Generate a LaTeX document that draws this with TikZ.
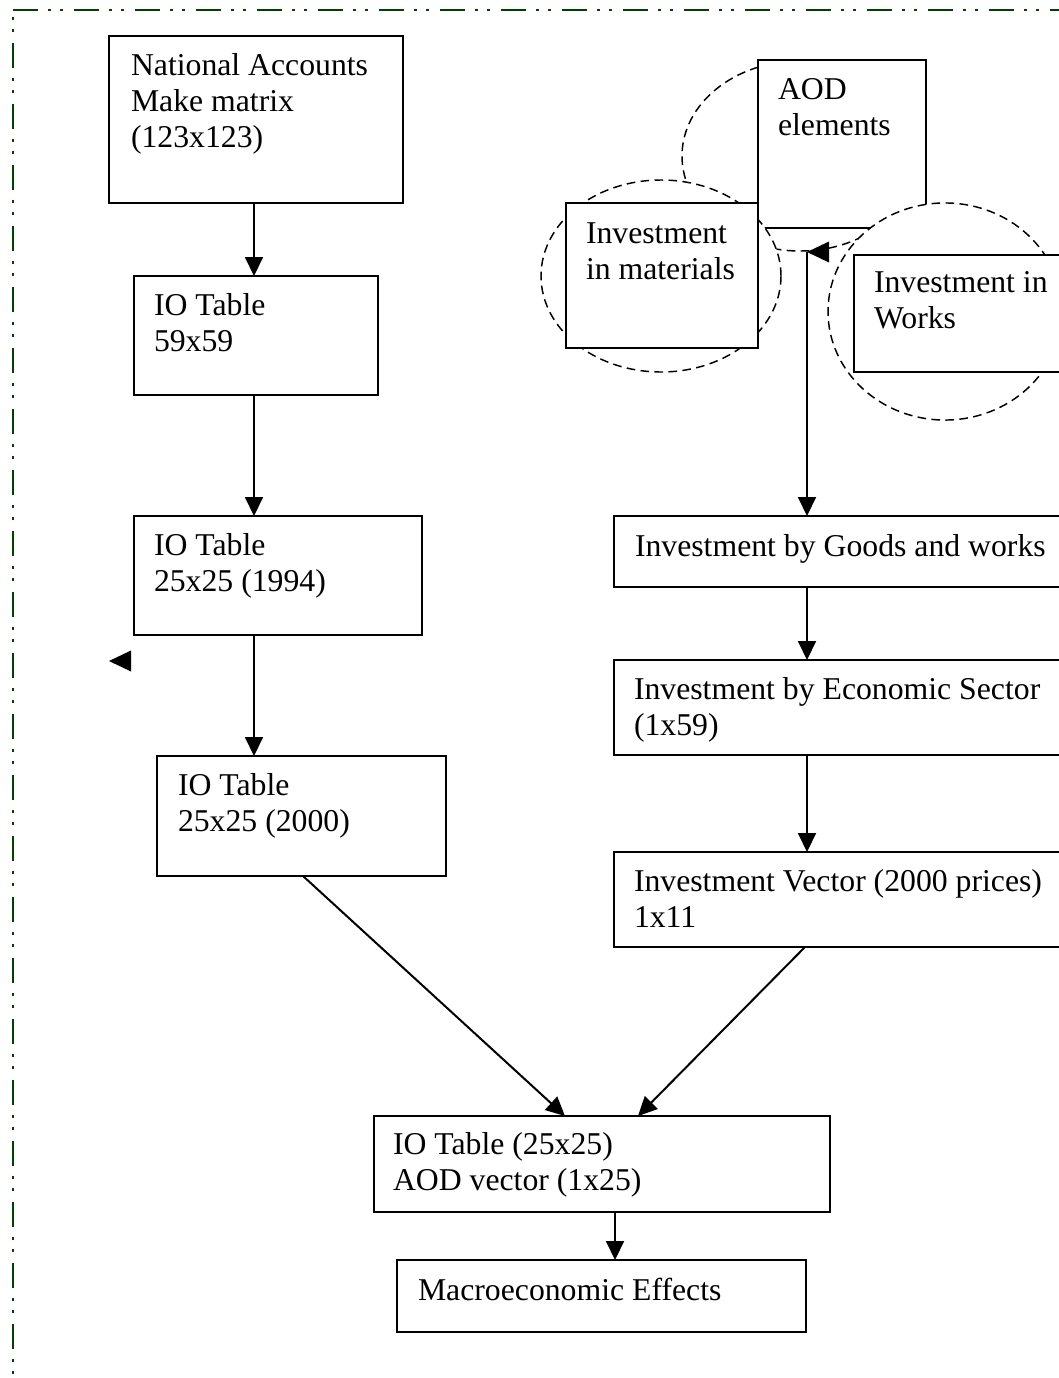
\documentclass[tikz,border=0pt]{standalone}
\usepackage{fontspec}
\setmainfont{Liberation Serif}
\usetikzlibrary{arrows.meta}
\definecolor{bordergreen}{RGB}{0,64,0}
\tikzset{
  box/.style={draw, line width=1.5pt, fill=white, rectangle, inner sep=0pt, outer sep=0pt, anchor=north west},
  txt/.style={anchor=north west, inner sep=0pt, outer sep=0pt, align=left, font=\fontsize{23.8}{27}\selectfont},
  ell/.style={draw, fill=white, line width=1.1pt, dash pattern=on 6.5pt off 4pt},
  conn/.style={line width=1.5pt, -{Triangle[length=14.25pt, width=13.5pt]}},
  frame/.style={draw=bordergreen, line width=2.1pt, dash pattern=on 18.75pt off 7.5pt on 2.25pt off 6.75pt on 2.25pt off 8.25pt}
}
\newcommand\pxbox[5]{\node[box, minimum width={(#4-#2)*0.75pt}, minimum height={(#5-#3)*0.75pt}] (#1) at (#2,#3) {};}
\begin{document}
\begin{tikzpicture}[x=0.75pt, y=-0.75pt]
\useasboundingbox (0,0) rectangle (1059,1378);
\clip (0,0) rectangle (1059,1378);
\fill[white] (0,0) rectangle (1059,1378);
% border
\draw[frame] (13,10) -- (1075,10);
\draw[frame, dash phase=21pt] (13,10) -- (13,1395);
% left column
\pxbox{na}{109}{36}{403}{203}
\node[txt] (na-t) at ([shift={(22,13.8)}]na.north west) {\strut National Accounts\\Make matrix\\(123x123)};
\pxbox{io59}{134}{276}{378}{395}
\node[txt] (io59-t) at ([shift={(20,13.8)}]io59.north west) {\strut IO Table\\59x59};
\pxbox{io94}{134}{516}{422}{635}
\node[txt] (io94-t) at ([shift={(20,13.8)}]io94.north west) {\strut IO Table\\25x25 (1994)};
\pxbox{io00}{157}{756}{446}{876}
\node[txt] (io00-t) at ([shift={(21,13.8)}]io00.north west) {\strut IO Table\\25x25 (2000)};
% top right cluster
\path[ell] (800,156) ellipse [x radius=88.5pt, y radius=71.25pt];
\pxbox{aod}{758}{60}{926}{228}
\node[txt] (aod-t) at ([shift={(20,13.8)}]aod.north west) {\strut AOD\\elements};
\path[ell] (661,276) ellipse [x radius=90pt, y radius=72pt];
\pxbox{mat}{566}{203}{758}{348}
\node[txt] (mat-t) at ([shift={(20,14.8)}]mat.north west) {\strut Investment\\in materials};
\path[ell] (945,311.5) ellipse [x radius=87.75pt, y radius=81.4pt];
\pxbox{works}{854}{255}{1075}{372}
\node[txt] (works-t) at ([shift={(20,11.8)}]works.north west) {\strut Investment in\\Works};
% right column
\pxbox{goods}{614}{516}{1075}{587}
\node[txt] (goods-t) at ([shift={(21,14.8)}]goods.north west) {\strut Investment by Goods and works};
\pxbox{econ}{614}{660}{1075}{755}
\node[txt] (econ-t) at ([shift={(20,13.8)}]econ.north west) {\strut Investment by Economic Sector\\(1x59)};
\pxbox{vec}{614}{852}{1075}{947}
\node[txt] (vec-t) at ([shift={(20,13.8)}]vec.north west) {\strut Investment Vector (2000 prices)\\1x11};
% bottom
\pxbox{fin}{374}{1116}{830}{1212}
\node[txt] (fin-t) at ([shift={(19,12.8)}]fin.north west) {\strut IO Table (25x25)\\AOD vector (1x25)};
\pxbox{mac}{397}{1260}{806}{1332}
\node[txt] (mac-t) at ([shift={(21,14.8)}]mac.north west) {\strut Macroeconomic Effects};
% connector x positions
\coordinate (lx) at (254,0);
\coordinate (rx) at (807,0);
\coordinate (dl1) at (303,0);
\coordinate (dl2) at (565,0);
\coordinate (dr1) at (805,0);
\coordinate (dr2) at (638,0);
\coordinate (bx) at (615,0);
\coordinate (top) at (807,252);
% connectors
\draw[conn] (na.south -| lx) -- (io59.north -| lx);
\draw[conn] (io59.south -| lx) -- (io94.north -| lx);
\draw[conn] (io94.south -| lx) -- (io00.north -| lx);
\draw[conn] (top) -- (goods.north -| rx);
\draw[conn] (goods.south -| rx) -- (econ.north -| rx);
\draw[conn] (econ.south -| rx) -- (vec.north -| rx);
\draw[conn] (io00.south -| dl1) -- (fin.north -| dl2);
\draw[conn] (vec.south -| dr1) -- (fin.north -| dr2);
\draw[conn] (fin.south -| bx) -- (mac.north -| bx);
% stray arrowheads
\fill (top) -- ++(22,-10.5) -- ++(0,21) -- cycle;
\fill (109,661) -- (131,650.5) -- (131,671.5) -- cycle;
\end{tikzpicture}
\end{document}
